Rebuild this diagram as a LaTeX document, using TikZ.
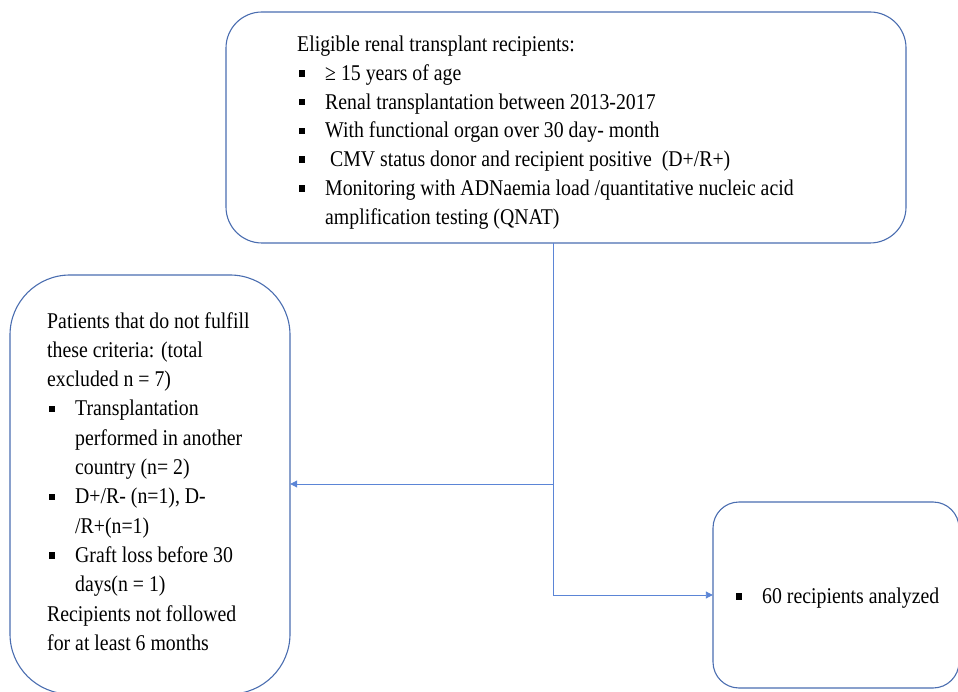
\documentclass[tikz,border=0pt]{standalone}
\usepackage{fontspec}
\setmainfont{Liberation Serif}[FakeStretch=0.88]
\usetikzlibrary{arrows.meta}
\definecolor{boxblue}{HTML}{4A6DB0}
\definecolor{linkblue}{HTML}{5B85D6}
\newcommand{\bsq}{\makebox[28pt][l]{\hspace{2pt}\rule[3.8pt]{5.5pt}{6.5pt}}}
\newcommand{\bind}{\hspace*{28pt}}
\tikzset{
  box/.style={draw=boxblue, line width=1.1pt, fill=none, inner sep=0pt},
  txt/.style={inner sep=0pt, align=left},
  link/.style={draw=linkblue, line width=0.9pt},
  arr/.style={link, -{Triangle[length=7pt,width=7pt]}}
}
\begin{document}
\begin{tikzpicture}[x=1pt,y=-1pt]
\useasboundingbox (0,0) rectangle (958,692);
% boxes
\draw[box, rounded corners=36pt] (226,12) rectangle (906,243);
\node[minimum width=680pt, minimum height=231pt, inner sep=0pt] (top) at (566,127.5) {};
\draw[box, rounded corners=60pt] (10,275) rectangle (290,694);
\node[minimum width=280pt, minimum height=419pt, inner sep=0pt] (left) at (150,484.5) {};
\draw[box, rounded corners=26pt] (713,502) rectangle (959,688);
\node[minimum width=246pt, minimum height=186pt, inner sep=0pt] (right) at (836,595) {};
% texts
\node[txt, anchor=north west, font=\fontsize{22.5}{28.7}\selectfont] (toptext) at (297,36) {%
Eligible renal transplant recipients:\\
\bsq ≥ 15 years of age\\
\bsq Renal transplantation between 2013-2017\\
\bsq With functional organ over 30 day- month\\
\bsq\ CMV status donor and recipient positive\ \ (D+/R+)\\
\bsq Monitoring with ADNaemia load /quantitative nucleic acid\\
\bind amplification testing (QNAT)};
\node[txt, anchor=north west, font=\fontsize{22.5}{29.3}\selectfont] (lefttext) at (47,312) {%
Patients that do not fulfill\\
these criteria: (total\\
excluded n = 7)\\
\bsq Transplantation\\
\bind performed in another\\
\bind country (n= 2)\\
\bsq D+/R- (n=1), D-\\
\bind /R+(n=1)\\
\bsq Graft loss before 30\\
\bind days(n = 1)\\
Recipients not followed\\
for at least 6 months};
\node[txt, anchor=west, font=\fontsize{22.5}{28}\selectfont] (righttext) at (734,598) {\bsq 60 recipients analyzed};
% connectors
\coordinate (j1) at (553,484);
\coordinate (j2) at (553,595);
\draw[link] (top.south -| j1) -- (j2);
\draw[arr] (j1) -- (left.east |- j1);
\draw[arr] (j2) -- (right.west |- j2);
\end{tikzpicture}
\end{document}
